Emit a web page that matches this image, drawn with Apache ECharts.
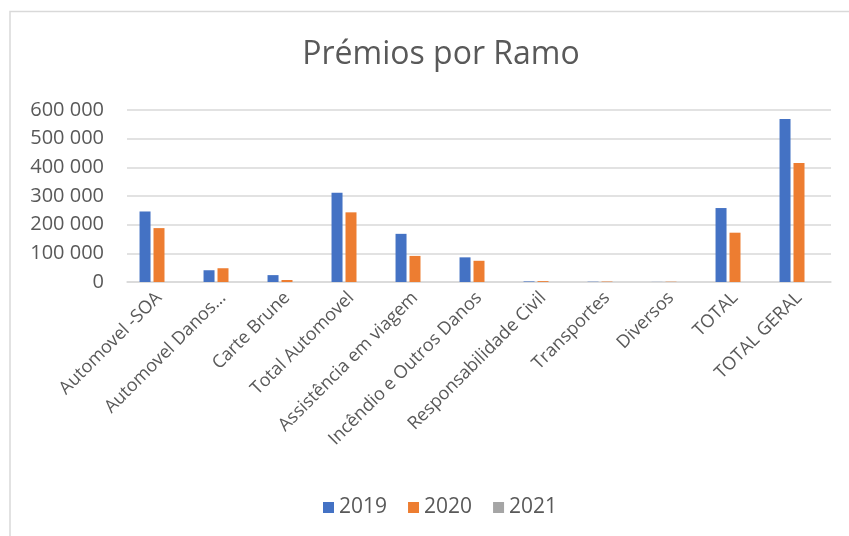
<!DOCTYPE html>
<html>
<head>
<meta charset="utf-8">
<script src="https://cdn.jsdelivr.net/npm/echarts@6/dist/echarts.min.js"></script>
<style>
  html, body { margin: 0; padding: 0; background: #fff; }
  #chart { width: 849px; height: 536px; }
</style>
</head>
<body>
<div id="chart"></div>
<script>
const categories = [
  'Automovel -SOA', 'Automovel Danos…', 'Carte Brune', 'Total Automovel',
  'Assistência em viagem', 'Incêndio e Outros Danos', 'Responsabilidade Civil',
  'Transportes', 'Diversos', 'TOTAL', 'TOTAL GERAL'
]
const years = ['2019', '2020', '2021']
const values2019 = [246000, 41000, 24000, 311000, 168000, 86000, 2000, 1000, 300, 258000, 569000]
const values2020 = [188000, 48000, 7000, 243000, 91000, 74000, 3000, 1500, 1000, 172000, 415000]
const values2021 = [0, 0, 0, 0, 0, 0, 0, 0, 0, 0, 0]
const colors = ['#4472c4', '#ed7d31', '#a5a5a5']
const yTicks = { min: 0, max: 600000, interval: 100000 }

const fontFamily = '"Open Sans", "Noto Sans", sans-serif'
const textColor = '#595959'

const chart = echarts.init(document.getElementById('chart'))

const fmt = v => String(v).replace(/\B(?=(\d{3})+(?!\d))/g, ' ')

chart.setOption({
  animation: false,
  textStyle: { fontFamily: fontFamily },
  title: {
    text: 'Prémios por Ramo',
    left: 436,
    textAlign: 'center',
    top: 34,
    textStyle: { fontSize: 32, fontWeight: 'normal', color: textColor, fontFamily: fontFamily },
  },
  graphic: [{
    type: 'rect',
    shape: { x: 10, y: 11.5, width: 900, height: 600 },
    style: { fill: 'none', stroke: '#d9d9d9', lineWidth: 1.5 },
    silent: true,
  }],
  legend: {
    bottom: 13,
    left: 318,
    itemWidth: 11,
    itemHeight: 11,
    itemGap: 21,
    icon: 'rect',
    textStyle: { fontSize: 21, color: textColor, fontFamily: fontFamily },
    data: years,
  },
  grid: {
    left: 127,
    right: 18,
    top: 110,
    bottom: 254,
    containLabel: false,
  },
  xAxis: {
    type: 'category',
    data: categories,
    axisTick: { show: false },
    axisLine: { lineStyle: { color: '#d9d9d9', width: 1.5 } },
    axisLabel: {
      rotate: 45,
      interval: 0,
      margin: 13,
      fontSize: 18,
      color: textColor,
      fontFamily: fontFamily,
    },
  },
  yAxis: {
    type: 'value',
    min: yTicks.min,
    max: yTicks.max,
    interval: yTicks.interval,
    axisLine: { show: false },
    axisTick: { show: false },
    splitLine: { lineStyle: { color: '#d9d9d9', width: 1.5 } },
    axisLabel: {
      margin: 23,
      fontSize: 20,
      color: textColor,
      fontFamily: fontFamily,
      formatter: fmt,
    },
  },
  series: [
    { name: years[0], type: 'bar', data: values2019, barWidth: 11, barGap: '27%', itemStyle: { color: colors[0] } },
    { name: years[1], type: 'bar', data: values2020, barWidth: 11, barGap: '27%', itemStyle: { color: colors[1] } },
    { name: years[2], type: 'bar', data: values2021, barWidth: 11, barGap: '27%', itemStyle: { color: colors[2] } },
  ],
})
</script>
</body>
</html>
